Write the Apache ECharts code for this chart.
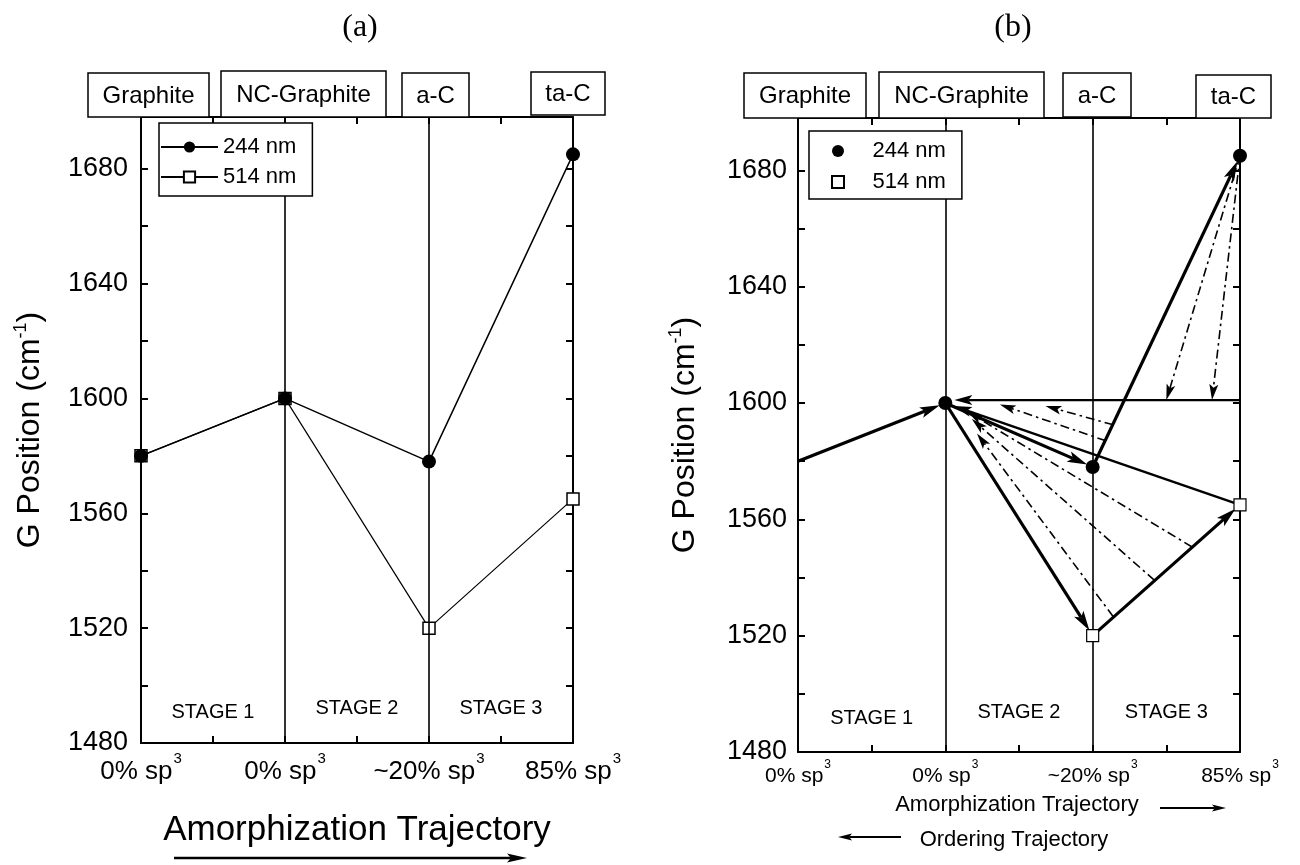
<!DOCTYPE html>
<html><head><meta charset="utf-8">
<script src="https://cdn.jsdelivr.net/npm/echarts@6/dist/echarts.min.js"></script>
<style>html,body{margin:0;padding:0;background:#fff}#c{width:1300px;height:865px}</style>
</head><body><div id="c"></div>
<script>
// ---------- data ----------
const categories = ['0% sp', '0% sp', '~20% sp', '85% sp']; // each followed by superscript "3"
const phases = ['Graphite', 'NC-Graphite', 'a-C', 'ta-C'];
const stages = ['STAGE 1', 'STAGE 2', 'STAGE 3'];
const g244 = [1580, 1600, 1578, 1685];
const g514 = [1580, 1600, 1520, 1565];
// panel (b): dash-dot ordering arrows [x1, y1, x2, y2]
const orderingArrows = [
  [3, 1685, 2.5, 1601], [3, 1685, 2.81, 1601],
  [2.14, 1592.5, 1.68, 1599], [2.09, 1587, 1.37, 1599.5],
  [2.675, 1550.5, 1.15, 1597], [2.42, 1539, 1.18, 1594.5], [2.14, 1526.5, 1.215, 1589.5]
];
// panel (b): solid return lines to NC-graphite [x1, y1, x2, y2]
const returnLines = [[3, 1565, 1, 1600], [3, 1601, 1, 1601]];

// ---------- helpers ----------
const FF = '"Liberation Sans", Arial, Helvetica, sans-serif';
const BLACK = '#000';
const pts = arr => arr.map((v, i) => [i, v]);
const seg = (arr, i, j) => [i, arr[i], j, arr[j]];
const amorphArrows = [seg(g244, 0, 1), seg(g244, 1, 2), seg(g244, 2, 3), seg(g514, 1, 2), seg(g514, 2, 3)];

function xAx(grid, top, fs, margin) {
  return {
    type: 'value', gridIndex: grid, position: top ? 'top' : 'bottom', min: 0, max: 3, interval: 0.5,
    axisLine: { onZero: false, lineStyle: { color: BLACK, width: 2 } },
    axisTick: { inside: true, length: 7, lineStyle: { color: BLACK, width: 2 } },
    splitLine: { show: false },
    axisLabel: top ? { show: false } : {
      margin: margin,
      formatter: v => Number.isInteger(v) ? '{n|' + categories[v] + '}{s|3}' : '',
      rich: {
        n: { fontSize: fs, fontFamily: FF, color: BLACK },
        s: { fontSize: Math.round(fs * 0.58), fontFamily: FF, color: BLACK, padding: [0, 0, Math.round(fs * 1.05), 1] }
      }
    }
  };
}
function yAx(grid, right, fs, margin, gap) {
  return {
    type: 'value', gridIndex: grid, position: right ? 'right' : 'left', min: 1480, max: 1698, interval: 20,
    axisLine: { onZero: false, lineStyle: { color: BLACK, width: 2 } },
    axisTick: { inside: true, length: 7, lineStyle: { color: BLACK, width: 2 } },
    splitLine: { show: false },
    axisLabel: right ? { show: false } : {
      margin: margin, fontSize: fs, fontFamily: FF, color: BLACK,
      formatter: v => (v % 40 === 0 ? String(v) : '')
    },
    name: right ? '' : '{n|G Position (cm}{s|-1}{n|)}',
    nameLocation: 'middle', nameRotate: 90, nameGap: gap,
    nameTextStyle: {
      rich: {
        n: { fontSize: 32, fontFamily: FF, color: BLACK },
        s: { fontSize: 18, fontFamily: FF, color: BLACK, padding: [0, 0, 18, 0] }
      }
    }
  };
}
function arrowRender(o) {
  return function (params, api) {
    const a = api.coord([api.value(0), api.value(1)]);
    const b = api.coord([api.value(2), api.value(3)]);
    let dx = b[0] - a[0], dy = b[1] - a[1];
    const len = Math.hypot(dx, dy); dx /= len; dy /= len;
    const tip = [b[0] - dx * o.endGap, b[1] - dy * o.endGap];
    const start = [a[0] + dx * o.startGap, a[1] + dy * o.startGap];
    const L = o.headL, W = o.headW;
    const base = [tip[0] - dx * L, tip[1] - dy * L];
    const notch = [tip[0] - dx * L * 0.78, tip[1] - dy * L * 0.78];
    const px = -dy, py = dx;
    return {
      type: 'group', children: [
        { type: 'line', shape: { x1: start[0], y1: start[1], x2: notch[0], y2: notch[1] },
          style: { stroke: BLACK, lineWidth: o.width, lineDash: o.dash || null, fill: null } },
        { type: 'polygon', shape: { points: [tip, [base[0] + px * W / 2, base[1] + py * W / 2], notch, [base[0] - px * W / 2, base[1] - py * W / 2]] },
          style: { fill: BLACK, stroke: null } }
      ]
    };
  };
}
function box(x, y, w, h, label) {
  return {
    type: 'group', z: 100, children: [
      { type: 'rect', shape: { x: x, y: y, width: w, height: h }, style: { fill: '#fff', stroke: BLACK, lineWidth: 1.5 }, z: 100 },
      { type: 'text', z: 101, style: { text: label, x: x + w / 2, y: y + h / 2 + 1, fontSize: 24, fontFamily: FF, fill: BLACK, align: 'center', verticalAlign: 'middle' } }
    ]
  };
}
function text(x, y, t, fs, fam) {
  return { type: 'text', z: 100, style: { text: t, x: x, y: y, fontSize: fs, fontFamily: fam || FF, fill: BLACK, align: 'center', verticalAlign: 'middle' } };
}
function harrow(x1, x2, y, w, L, W) {
  const d = x2 > x1 ? 1 : -1;
  return {
    type: 'group', z: 100, children: [
      { type: 'line', shape: { x1: x1, y1: y, x2: x2 - d * L * 0.8, y2: y }, style: { stroke: BLACK, lineWidth: w } },
      { type: 'polygon', shape: { points: [[x2, y], [x2 - d * L, y - W / 2], [x2 - d * L * 0.8, y], [x2 - d * L, y + W / 2]] }, style: { fill: BLACK } }
    ]
  };
}
const stageSeries = (xi, yi, ys) => ({
  type: 'scatter', xAxisIndex: xi, yAxisIndex: yi, symbolSize: 1, silent: true,
  itemStyle: { color: 'rgba(0,0,0,0)', opacity: 1 },
  data: stages.map((s, i) => ({ name: s, value: [i + 0.5, ys[i]] })),
  label: { show: true, position: 'inside', formatter: '{b}', fontSize: 20, fontFamily: FF, color: BLACK, opacity: 1 }
});
const vLines = {
  silent: true, symbol: ['none', 'none'], label: { show: false },
  lineStyle: { color: BLACK, width: 1.6, type: 'solid' },
  data: [{ xAxis: 1 }, { xAxis: 2 }], animation: false
};
const SQUARE = 'path://M0,0L10,0L10,10L0,10Z';

const chart = echarts.init(document.getElementById('c'), null, { renderer: 'canvas' });
chart.setOption({
  animation: false,
  backgroundColor: '#fff',
  grid: [
    { left: 141, right: 727, top: 117, bottom: 122 },
    { left: 798, right: 60, top: 118, bottom: 113 }
  ],
  xAxis: [xAx(0, false, 26, 8), xAx(0, true), xAx(1, false, 21, 7), xAx(1, true)],
  yAxis: [yAx(0, false, 27, 13, 93), yAx(0, true), yAx(1, false, 27, 11, 95), yAx(1, true)],
  legend: [
    {
      data: ['244 nm', '514 nm'], orient: 'vertical', left: 159, top: 123,
      padding: [13, 16, 8, 1], itemWidth: 57, itemHeight: 14, itemGap: 8,
      borderColor: BLACK, borderWidth: 1.5, backgroundColor: '#fff', selectedMode: false, z: 20,
      textStyle: { fontSize: 22, color: BLACK, fontFamily: FF }
    },
    {
      data: [{ name: '244 nm (b)', icon: 'circle' }, { name: '514 nm (b)', icon: SQUARE }],
      formatter: n => n.replace(' (b)', ''),
      orient: 'vertical', left: 809, top: 131,
      padding: [9, 16, 6, 22], itemWidth: 37, itemHeight: 12, itemGap: 9,
      borderColor: BLACK, borderWidth: 1.5, backgroundColor: '#fff', selectedMode: false, z: 20,
      textStyle: { fontSize: 22, color: BLACK, fontFamily: FF, padding: [0, 0, 0, 11] }
    }
  ],
  series: [
    // ---- panel (a) ----
    {
      name: '514 nm', type: 'line', xAxisIndex: 0, yAxisIndex: 0, data: pts(g514),
      symbol: 'rect', symbolSize: 12, z: 3,
      itemStyle: { color: '#fff', borderColor: BLACK, borderWidth: 1.5 },
      lineStyle: { color: BLACK, width: 1.2 },
      markLine: vLines
    },
    {
      name: '244 nm', type: 'line', xAxisIndex: 0, yAxisIndex: 0, data: pts(g244),
      symbol: 'circle', symbolSize: 14, z: 4,
      itemStyle: { color: BLACK }, lineStyle: { color: BLACK, width: 1.5 }
    },
    stageSeries(0, 0, [1490.5, 1492, 1492]),
    // ---- panel (b) ----
    {
      type: 'custom', xAxisIndex: 2, yAxisIndex: 2, data: orderingArrows, silent: true, z: 3,
      encode: { x: [0, 2], y: [1, 3] },
      renderItem: arrowRender({ width: 1.6, dash: [9, 4, 2.5, 4], headL: 16, headW: 9, endGap: 0, startGap: 0 })
    },
    {
      type: 'custom', xAxisIndex: 2, yAxisIndex: 2, data: returnLines, silent: true, z: 3,
      encode: { x: [0, 2], y: [1, 3] },
      renderItem: arrowRender({ width: 2.4, headL: 18, headW: 10, endGap: 9, startGap: 0 })
    },
    {
      type: 'custom', xAxisIndex: 2, yAxisIndex: 2, data: amorphArrows, silent: true, z: 4,
      encode: { x: [0, 2], y: [1, 3] },
      renderItem: arrowRender({ width: 3.2, headL: 20, headW: 11, endGap: 6, startGap: 0 })
    },
    {
      name: '244 nm (b)', type: 'scatter', xAxisIndex: 2, yAxisIndex: 2, data: pts(g244).slice(1),
      symbol: 'circle', symbolSize: 14, z: 5, itemStyle: { color: BLACK, opacity: 1 }
    },
    {
      name: '514 nm (b)', type: 'scatter', xAxisIndex: 2, yAxisIndex: 2, data: pts(g514).slice(2),
      symbol: 'rect', symbolSize: 12, z: 5, itemStyle: { color: '#fff', borderColor: BLACK, borderWidth: 1.2, opacity: 1 },
      markLine: vLines
    },
    stageSeries(2, 2, [1491.5, 1493.5, 1493.5])
  ],
  graphic: [
    text(360, 28, '(a)', 32, '"Liberation Serif", "Times New Roman", serif'),
    text(1013, 28, '(b)', 32, '"Liberation Serif", "Times New Roman", serif'),
    box(88, 73, 121, 44, phases[0]), box(221, 71, 165, 46, phases[1]),
    box(402, 73, 67, 44, phases[2]), box(531, 72, 74, 43, phases[3]),
    box(744, 73, 122, 45, phases[0]), box(879, 72, 165, 46, phases[1]),
    box(1063, 73, 68, 44, phases[2]), box(1196, 75, 75, 43, phases[3]),
    text(357, 830, 'Amorphization Trajectory', 35),
    harrow(174, 527, 858, 2.5, 20, 9),
    text(1017, 805, 'Amorphization Trajectory', 22),
    harrow(1160, 1226, 808, 2, 14, 7),
    text(1014, 840, 'Ordering Trajectory', 22),
    harrow(901, 838, 837, 2, 14, 7)
  ]
});
</script></body></html>
